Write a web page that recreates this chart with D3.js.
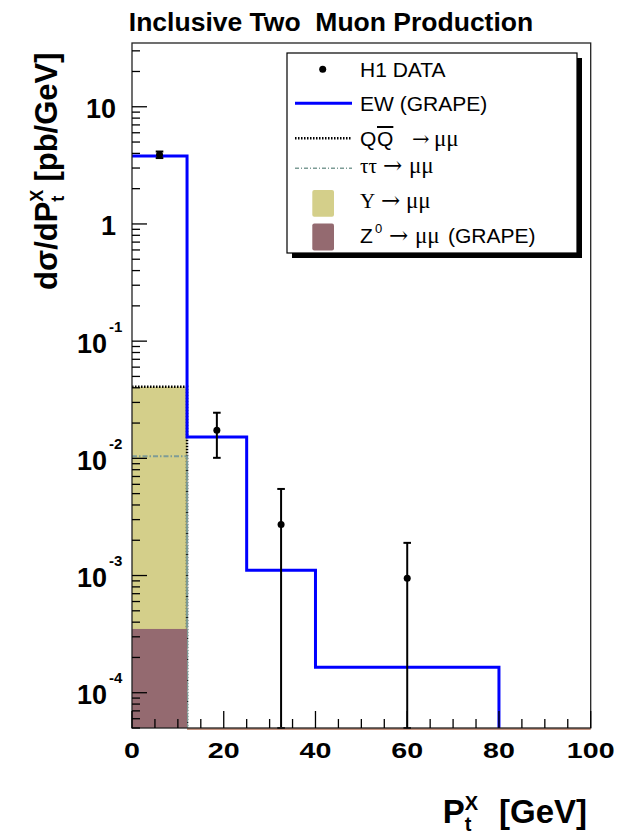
<!DOCTYPE html>
<html><head><meta charset="utf-8">
<script src="https://cdn.jsdelivr.net/npm/d3@7"></script>
<style>body{margin:0;background:#fff} text{white-space:pre}</style>
</head><body>
<svg id="c" width="617" height="834"></svg>
<script>
// Histogram bin edges in P_t^X [GeV]
const binEdges = [0, 12, 25, 40, 80, 100];
// Predictions per bin [pb/GeV]
const ewGrape = [3.8, 0.0152, 0.00111, 0.000165, 0];
const qqbar   = [0.0408, 0, 0, 0, 0];
const tautau  = [0.0104, 0, 0, 0, 0];
const upsilon = [0.0408, 0, 0, 0, 0];
const z0Grape = [0.00035, 0, 0, 0, 0];
// H1 measurement
const dataX       = [6, 18.5, 32.5, 60];
const dataY       = [3.9, 0.0174, 0.00272, 0.00095];
const dataErrUp   = [0.25, 0.0071, 0.00276, 0.00095];
const dataErrDown = [0.25, 0.0073, 0.00272, 0.00095];
// Axis ticks
const xTicks = [0, 20, 40, 60, 80, 100];
const xTickLabels = ["0", "20", "40", "60", "80", "100"];
const yTicks = [1e-4, 1e-3, 1e-2, 1e-1, 1, 10];
const yTickBase = ["10", "10", "10", "10", "1", "10"];
const yTickExp  = ["-4", "-3", "-2", "-1", "", ""];

const SANS = "'Liberation Sans', Arial, Helvetica, sans-serif";
const SERIF = "'Liberation Serif', 'Times New Roman', serif";
const ARROW = "'DejaVu Serif', serif";
const C_YEL = "#d4cf8a", C_BRN = "#946a70", C_TAU = "#7d9c96", C_EW = "#0000ff";

const svg = d3.select("#c");
const x = d3.scaleLinear().domain([0, 100]).range([132, 590.7]);
const y = d3.scaleLog().domain([5e-5, 35]).range([728, 43]);
const yMin = y.domain()[0];
const clampV = v => Math.max(v, yMin);

// step outline of a histogram: bins up to the last non-empty one, then a drop
function stepPoints(vals) {
  let last = -1;
  vals.forEach((v, i) => { if (v > 0) last = i; });
  const pts = [];
  for (let i = 0; i <= last; i++) pts.push([binEdges[i], vals[i]]);
  pts.push([binEdges[last + 1], yMin]);
  return pts;
}
const step = d3.line().x(d => x(d[0])).y(d => y(clampV(d[1]))).curve(d3.curveStepAfter);

// filled histograms
function fillBins(vals, color) {
  svg.append("g").selectAll("rect").data(vals.map((v, i) => ({v, i})).filter(d => d.v > 0))
    .join("rect")
    .attr("x", d => x(binEdges[d.i])).attr("width", d => x(binEdges[d.i + 1]) - x(binEdges[d.i]))
    .attr("y", d => y(d.v)).attr("height", d => y(yMin) - y(d.v))
    .attr("fill", color);
}
fillBins(upsilon, C_YEL);

svg.append("path").attr("d", step(stepPoints(qqbar)))
  .attr("fill", "none").attr("stroke", "#000").attr("stroke-width", 2.5).attr("stroke-dasharray", "1.5,1.5");

svg.append("path").attr("d", step(stepPoints(tautau).slice(0, 2).concat([[binEdges[1], tautau[0]]])))
  .attr("fill", "none").attr("stroke", C_TAU).attr("stroke-width", 2).attr("stroke-dasharray", "5,2,1.5,2");

fillBins(z0Grape, C_BRN);
// empty Z0 bins lie on the lower edge
svg.append("line").attr("x1", x(binEdges[1])).attr("x2", x(binEdges[binEdges.length - 1]))
  .attr("y1", y(yMin) + 1).attr("y2", y(yMin) + 1).attr("stroke", "#c4927e").attr("stroke-width", 2);

svg.append("path").attr("d", step(stepPoints(ewGrape)))
  .attr("fill", "none").attr("stroke", C_EW).attr("stroke-width", 3);

// data points with error bars
const dg = svg.append("g");
dataX.forEach((xv, i) => {
  const hi = y(clampV(dataY[i] + dataErrUp[i]));
  const lo = y(clampV(dataY[i] - dataErrDown[i]));
  const cx = x(xv);
  dg.append("line").attr("x1", cx).attr("x2", cx).attr("y1", hi).attr("y2", lo).attr("stroke", "#000").attr("stroke-width", 2);
  [hi, lo].forEach(yy => dg.append("line").attr("x1", cx - 3.8).attr("x2", cx + 3.8).attr("y1", yy).attr("y2", yy)
    .attr("stroke", "#000").attr("stroke-width", 2));
  dg.append("circle").attr("cx", cx).attr("cy", y(dataY[i])).attr("r", 3.5).attr("fill", "#000");
});

// frame
const [x0, x1] = x.range(), [yb, yt] = y.range();
svg.append("rect").attr("x", x0).attr("y", yt).attr("width", x1 - x0).attr("height", yb - yt)
  .attr("fill", "none").attr("stroke", "#222").attr("stroke-width", 1.3);

// x ticks
const ax = svg.append("g").attr("stroke", "#000").attr("stroke-width", 1.3);
d3.range(0, 101, 5).forEach(v => {
  const major = xTicks.includes(v);
  ax.append("line").attr("x1", x(v)).attr("x2", x(v)).attr("y1", yb).attr("y2", yb - (major ? 17 : 9));
});
// y ticks
const yLo = Math.floor(Math.log10(y.domain()[0])), yHi = Math.ceil(Math.log10(y.domain()[1]));
for (let e = yLo; e <= yHi; e++) {
  for (let m = 1; m <= 9; m++) {
    const v = m * Math.pow(10, e);
    if (v < y.domain()[0] * 0.999 || v > y.domain()[1]) continue;
    ax.append("line").attr("x1", x0).attr("x2", x0 + (m === 1 ? 15 : 8)).attr("y1", y(v)).attr("y2", y(v));
  }
}

// x tick labels
xTicks.forEach((v, i) => {
  svg.append("text").attr("transform", `translate(${x(v)},757.5) scale(1.3,1)`)
    .attr("text-anchor", "middle").attr("font-family", SANS).attr("font-weight", "bold")
    .attr("font-size", 22).text(xTickLabels[i]);
});
// y tick labels
yTicks.forEach((v, i) => {
  const ty = y(v) + 11.5;
  if (yTickExp[i]) {
    svg.append("text").attr("x", 107).attr("y", ty).attr("text-anchor", "end")
      .attr("font-family", SANS).attr("font-weight", "bold").attr("font-size", 27).text(yTickBase[i]);
    svg.append("text").attr("x", 109).attr("y", ty - 21).attr("font-family", SANS)
      .attr("font-weight", "bold").attr("font-size", 15).text(yTickExp[i]);
  } else {
    svg.append("text").attr("x", 116).attr("y", ty).attr("text-anchor", "end")
      .attr("font-family", SANS).attr("font-weight", "bold").attr("font-size", 27).text(yTickBase[i]);
  }
});

// text runs laid out one after another; "stack" puts a run over the previous one
function rich(parent, runs) {
  const g = parent.append("g");
  let cx = 0, lastStart = 0;
  runs.forEach(r => {
    const t = g.append("text").attr("font-family", r.family || SANS).attr("font-weight", r.weight || "bold")
      .attr("font-size", r.size).attr("y", r.dy || 0).text(r.text);
    const start = r.stack ? lastStart : cx + (r.gap || 0);
    t.attr("x", start);
    const w = t.node().getComputedTextLength();
    if (r.stack) cx = Math.max(cx, start + w); else { lastStart = start; cx = start + w; }
  });
  return {g, width: cx};
}

// title
svg.append("text").attr("x", 331).attr("y", 31).attr("text-anchor", "middle")
  .attr("font-family", SANS).attr("font-weight", "bold").attr("font-size", 26.5)
  .text("Inclusive Two  Muon Production");

// y title (rotated)
const yt1 = rich(svg, [
  {text: "dσ/dP", size: 31},
  {text: "t", size: 18, dy: 7},
  {text: "X", size: 18, dy: -14, stack: true},
  {text: "[pb/GeV]", size: 31, gap: 8}
]);
yt1.g.attr("transform", `translate(57,${290}) rotate(-90)`);

// x title
const xt1 = rich(svg, [
  {text: "P", size: 33},
  {text: "t", size: 20, dy: 8},
  {text: "X", size: 20, dy: -13, stack: true},
  {text: "[GeV]", size: 33, gap: 21}
]);
xt1.g.attr("transform", `translate(${587 - xt1.width},823)`);

// legend
svg.append("rect").attr("x", 292).attr("y", 58).attr("width", 290).attr("height", 200).attr("fill", "#000");
svg.append("rect").attr("x", 287).attr("y", 53).attr("width", 290).attr("height", 200)
  .attr("fill", "#fff").attr("stroke", "#000").attr("stroke-width", 1.2);

const L = svg.append("g");
const lt = (xx, yy, s, opt = {}) => L.append("text").attr("x", xx).attr("y", yy)
  .attr("font-family", opt.family || SANS).attr("font-size", opt.size || 21).text(s);

L.append("circle").attr("cx", 322.7).attr("cy", 69.3).attr("r", 3.5).attr("fill", "#000");
lt(360, 76.7, "H1 DATA");

L.append("line").attr("x1", 295).attr("x2", 352).attr("y1", 103.3).attr("y2", 103.3).attr("stroke", C_EW).attr("stroke-width", 3);
lt(360, 111, "EW (GRAPE)");

L.append("line").attr("x1", 295).attr("x2", 352).attr("y1", 138.3).attr("y2", 138.3)
  .attr("stroke", "#000").attr("stroke-width", 2.5).attr("stroke-dasharray", "1.5,1.5");
lt(360, 146, "Q");
const q2 = lt(377, 146, "Q");
const q2w = q2.node().getComputedTextLength();
L.append("line").attr("x1", 377).attr("x2", 377 + q2w).attr("y1", 127).attr("y2", 127).attr("stroke", "#000").attr("stroke-width", 2);
lt(412, 146, "→", {family: ARROW, size: 21});
lt(434, 146, "μμ", {family: SERIF, size: 23});

L.append("line").attr("x1", 295).attr("x2", 352).attr("y1", 168.3).attr("y2", 168.3)
  .attr("stroke", C_TAU).attr("stroke-width", 1.5).attr("stroke-dasharray", "4,2,1,2");
lt(360, 173.3, "ττ", {family: SERIF, size: 21});
lt(383, 173.3, "→", {family: ARROW, size: 23});
lt(409, 173.3, "μμ", {family: SERIF, size: 23});

L.append("rect").attr("x", 312.3).attr("y", 190).attr("width", 21.7).attr("height", 26.7).attr("rx", 2).attr("fill", C_YEL);
lt(360, 208.3, "Υ", {family: SERIF, size: 21});
lt(381, 208.3, "→", {family: ARROW, size: 23});
lt(406, 208.3, "μμ", {family: SERIF, size: 23});

L.append("rect").attr("x", 312.3).attr("y", 223.5).attr("width", 21.7).attr("height", 27).attr("rx", 2).attr("fill", C_BRN);
lt(360, 243.3, "Z");
lt(375, 233, "0", {size: 13});
lt(389, 243.3, "→", {family: ARROW, size: 23});
lt(415, 243.3, "μμ", {family: SERIF, size: 23});
lt(448, 243.3, "(GRAPE)");
</script>
</body></html>
